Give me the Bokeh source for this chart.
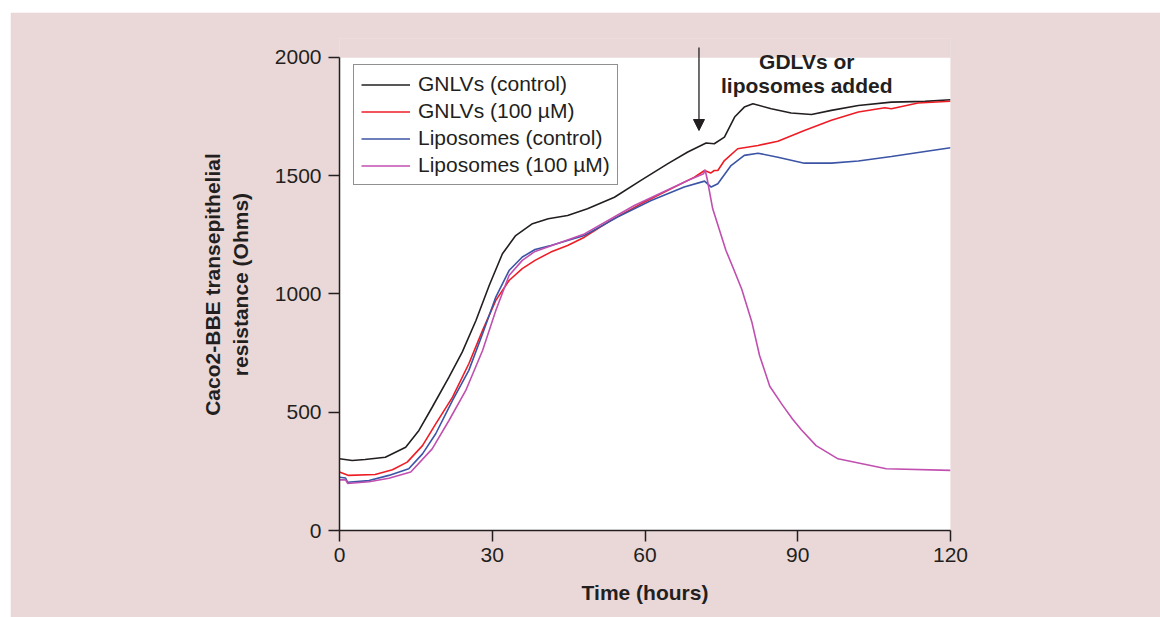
from bokeh.plotting import figure
from bokeh.models import (Legend, LegendItem, Arrow, NormalHead, Label, Spacer,
                          FixedTicker, Range1d)
from bokeh.layouts import column, row
from bokeh.embed import file_html
from bokeh.resources import INLINE

# ---- data ----
x_ticks = [0, 30, 60, 90, 120]
y_ticks = [0, 500, 1000, 1500, 2000]

gnlv_ctrl_t = [0, 2.5, 5, 9, 13, 15.6, 18.2, 21.5, 24.1, 26.8, 29.4, 32, 34.6, 37.9, 41, 44.8,
               48.7, 54, 59.2, 64.5, 68.4, 72, 73.6, 75.6, 77.6, 79.5, 81.2, 84.8, 88.7, 92.7,
               96.6, 101.9, 108.4, 115, 120]
gnlv_ctrl_v = [303, 296, 300, 310, 352, 423, 521, 648, 754, 888, 1036, 1170, 1247, 1297, 1318,
               1332, 1360, 1409, 1480, 1551, 1600, 1638, 1635, 1663, 1748, 1790, 1804, 1783,
               1765, 1759, 1776, 1797, 1811, 1814, 1821]

gnlv_100_t = [0, 1.8, 7, 10.4, 13.3, 16.3, 18.9, 22.2, 25.4, 28.1, 30.7, 33.3, 35.9, 38.4, 41.5,
              44.8, 48.1, 53.3, 59.2, 64.5, 69.7, 71.7, 72.9, 73.6, 74.3, 75.6, 78.2, 82.2, 86.1,
              91.3, 96.6, 101.9, 107.1, 108.4, 113.6, 120]
gnlv_100_v = [247, 233, 237, 257, 289, 359, 451, 564, 705, 846, 973, 1057, 1107, 1142, 1177,
              1205, 1240, 1311, 1381, 1438, 1494, 1522, 1511, 1522, 1522, 1564, 1614, 1628, 1646,
              1691, 1734, 1769, 1787, 1783, 1807, 1815]

lipo_ctrl_t = [0, 1.2, 1.6, 5.8, 9.7, 13.6, 16.3, 18.9, 22.2, 25.4, 28.1, 30.7, 33.3, 35.9, 38.4,
               41.5, 48.1, 54.6, 61.2, 67.7, 71.7, 73, 74.3, 76.9, 79.5, 82.2, 86.1, 91.3, 96.6,
               101.9, 108.4, 115, 120]
lipo_ctrl_v = [225, 222, 204, 211, 233, 261, 324, 409, 550, 677, 832, 987, 1099, 1156, 1188,
               1205, 1247, 1325, 1395, 1452, 1477, 1452, 1466, 1543, 1586, 1595, 1578, 1553, 1553,
               1562, 1581, 1602, 1618]

lipo_100_t = [0, 1.2, 1.6, 5.8, 9.7, 14, 18.2, 21.5, 24.8, 28.1, 30.7, 33.3, 35.9, 38.4, 48.1,
              57.9, 68.4, 71.5, 71.8, 72.2, 73.3, 75.9, 77.5, 79, 81, 82.5, 84.5, 87, 89, 90.7,
              93.6, 97.9, 107.4, 120]
lipo_100_v = [214, 214, 199, 206, 221, 247, 345, 465, 592, 761, 930, 1078, 1142, 1180, 1254,
              1374, 1480, 1508, 1525, 1487, 1360, 1184, 1100, 1020, 880, 740, 610, 530, 470, 426,
              359, 303, 261, 254]

series_names = ["GNLVs (control)", "GNLVs (100 \u00b5M)", "Liposomes (control)", "Liposomes (100 \u00b5M)"]
series_colors = ["#231f20", "#ee1c25", "#3b54a5", "#c04fb0"]

added_time = 70.6
annot_lines = ["GDLVs or", "liposomes added"]

# ---- figure ----
INK = "#231f20"
PINK = "#ead8d8"
FONT = "Liberation Sans"
Y_TOP = 2080
p = figure(width=1150, height=605, x_range=Range1d(0, 120), y_range=Range1d(0, Y_TOP),
           output_backend="svg", toolbar_location=None,
           min_border_left=329, min_border_right=210, min_border_top=26, min_border_bottom=87,
           background_fill_color=PINK, border_fill_color=PINK)
p.outline_line_color = None
p.xgrid.visible = False
p.ygrid.visible = False
# white plotting panel spanning the axes' extent, pink strip above it
p.quad(left=[x_ticks[0]], right=[x_ticks[-1]], bottom=[y_ticks[0]], top=[y_ticks[-1]],
       fill_color="white", fill_alpha=1.0, line_color=None)
p.quad(left=[x_ticks[0] - 5], right=[x_ticks[-1] + 5], bottom=[y_ticks[-1]], top=[Y_TOP + 50],
       fill_color=PINK, fill_alpha=1.0, line_color=None)

p.xaxis.ticker = FixedTicker(ticks=x_ticks)
p.yaxis.ticker = FixedTicker(ticks=y_ticks)
p.yaxis.bounds = (0, 2000)
for ax in (p.xaxis, p.yaxis):
    ax.axis_line_color = INK
    ax.axis_line_width = 1.5
    ax.major_tick_line_color = INK
    ax.major_tick_line_width = 1.5
    ax.major_tick_out = 11
    ax.major_tick_in = 0
    ax.minor_tick_line_color = None
    ax.major_label_text_font = FONT
    ax.major_label_text_font_size = "21px"
    ax.major_label_text_color = INK
    ax.axis_label_text_font = FONT
    ax.axis_label_text_font_size = "21px"
    ax.axis_label_text_font_style = "bold"
    ax.axis_label_text_color = INK
p.xaxis.major_label_standoff = 6
p.yaxis.major_label_standoff = 7
p.xaxis.axis_label = "Time (hours)"
p.xaxis.axis_label_standoff = 16
p.yaxis.axis_label = "Caco2-BBE transepithelial\nresistance (Ohms)"
p.yaxis.axis_label_standoff = 20

renderers = []
for t, v, c in [(gnlv_ctrl_t, gnlv_ctrl_v, series_colors[0]),
                (gnlv_100_t, gnlv_100_v, series_colors[1]),
                (lipo_ctrl_t, lipo_ctrl_v, series_colors[2]),
                (lipo_100_t, lipo_100_v, series_colors[3])]:
    renderers.append(p.line(t, v, line_color=c, line_width=1.6))

legend = Legend(items=[LegendItem(label=n, renderers=[r]) for n, r in zip(series_names, renderers)],
                location=(14, 345), margin=0, padding=7, spacing=3,
                glyph_width=49, glyph_height=23, label_height=23, label_standoff=8,
                label_text_font=FONT, label_text_font_size="21px", label_text_color=INK,
                border_line_color=INK, border_line_width=1.5,
                background_fill_color="white", background_fill_alpha=1.0)
p.add_layout(legend)

p.add_layout(Arrow(end=NormalHead(size=11, fill_color=INK, line_color=INK, line_width=1),
                   x_start=added_time, y_start=2042, x_end=added_time, y_end=1691,
                   line_color=INK, line_width=1.3))
for i, txt in enumerate(annot_lines):
    p.add_layout(Label(x=91.77, y=1983 - i * 101, text=txt, text_align="center",
                       text_baseline="alphabetic", text_font=FONT, text_font_size="21px",
                       text_font_style="bold", text_color=INK))

layout = column(Spacer(height=12), row(Spacer(width=10), p))
open("out.html", "w").write(file_html(layout, INLINE))
